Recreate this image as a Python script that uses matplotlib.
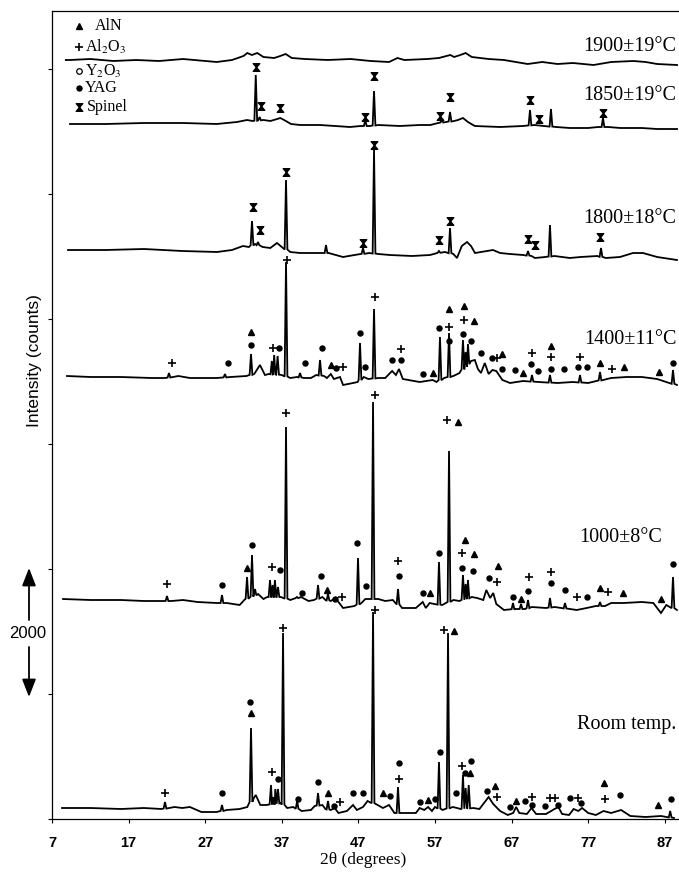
import numpy as np
import matplotlib.pyplot as plt
from matplotlib.path import Path
from matplotlib.transforms import blended_transform_factory

plt.rcParams['font.family'] = ['Liberation Serif', 'DejaVu Serif']
plt.rcParams['mathtext.fontset'] = 'stix'

# stacked XRD patterns: 2theta (deg) and counts relative to each pattern's offset
labels = ['1900±19°C', '1850±19°C', '1800±18°C', '1400±11°C', '1000±8°C', 'Room temp.']
offsets = [12144, 11120, 9104, 7072, 3504, 176]

base_1900 = [(8.8, 0), (9.35, 0), (12, 16), (15, -16), (18, 0), (21, -16), (24.1, 16), (28.5, -32),
             (30.5, 0), (32.0, 64), (32.5, 112), (33.1, 80), (33.8, 112), (34.6, 48), (36.0, 32),
             (36.8, 64), (37.5, 96), (38.3, 32), (40, 16), (43, 0), (46, 16), (48.6, -16), (51.0, -32),
             (52.1, 32), (53.0, 0), (56.0, 16), (57.5, 32), (59.0, 80), (59.5, 48), (60.3, 80),
             (61.0, 112), (61.8, 48), (64, 16), (66, 0), (69.1, -64), (71, -32), (73, -64), (75, -48),
             (77.7, -80), (80, -32), (82.9, -16), (84.5, -32), (86, -64), (88.6, -80)]
peaks_1900 = []

base_1850 = [(9.35, 0), (14, 0), (19, 16), (24.1, 16), (28.5, 0), (31.15, 32), (32.46, 64), (33.2, 48),
             (34.6, 64), (35.5, 48), (36.4, 80), (36.8, 96), (37.3, 64), (38.2, 0), (39.4, -16),
             (42, -16), (45.9, -48), (47.3, -32), (48.5, -32), (49.6, -16), (52.4, -32), (55, -16),
             (56.4, -16), (57.4, 16), (59.5, 48), (60.0, 64), (60.65, 96), (61.3, 32), (62.2, -32),
             (65.5, -48), (68.5, -32), (70.0, -16), (71.2, -32), (72.8, -48), (74.6, -64), (77, -64),
             (78.3, -48), (79.6, -48), (81.2, -64), (84, -64), (86, -80), (88.6, -80)]
peaks_1850 = [(33.6, 784), (34.1, 112), (47.9, 64), (49.04, 528), (57.9, 64), (58.96, 192),
              (69.4, 224), (72.14, 240), (78.93, 96)]

base_1800 = [(9.09, 0), (14, 0), (19, 16), (24, -16), (28.54, -32), (30.5, 0), (31.93, 64), (32.7, 48),
             (33.5, 96), (34.5, 48), (35.5, 32), (36.37, 112), (37.0, 48), (38.1, -32), (39.38, -48),
             (41.5, -48), (43.1, -48), (44.99, -112), (46.5, -80), (48.4, -48), (49.6, -64),
             (51.13, -80), (54, -96), (56.35, -80), (57.3, -48), (58.3, -32), (59.4, -64),
             (59.87, -128), (60.5, 64), (61.18, 128), (61.7, 64), (62.22, -48), (64.57, 0), (65.5, -48),
             (66.79, -64), (68.5, -80), (69.6, -96), (70.05, -128), (71.4, -112), (72.6, -96),
             (74.6, -128), (76, -112), (78.2, -96), (79.3, -128), (81.15, -112), (82.85, -48),
             (84.15, -48), (86, -112), (88.59, -160)]
peaks_1800 = [(33.11, 464), (33.89, 128), (37.55, 1120), (42.77, 80), (47.6, 32), (49.04, 1600),
              (57.52, -16), (58.96, 352), (69.14, -16), (72.01, 400), (78.67, 32)]

base_1400 = [(8.96, 16), (12, 0), (16, 0), (20, -16), (21.8, -16), (22.8, 0), (23.5, 16), (25, -16),
             (28.54, -16), (30.3, 0), (32.4, 16), (33.4, 48), (34.15, 192), (34.8, 32), (35.3, 48),
             (37.0, 32), (38.1, -16), (39.0, 0), (39.9, -16), (40.8, -16), (41.5, 32), (42.5, 16),
             (42.9, -16), (43.4, 48), (43.8, -32), (44.6, 0), (45.0, -128), (46.3, -96), (46.9, -80),
             (47.7, 0), (48.3, -32), (49.6, -16), (50.5, -16), (51.4, 96), (51.9, 32), (52.3, 128),
             (52.8, -32), (55.0, -80), (56.7, -48), (57.2, -80), (58.2, -16), (59.4, 16), (60.2, 64),
             (61.7, 256), (62.2, 272), (62.6, 128), (63.0, 64), (63.5, 224), (64.0, 48), (64.5, 112),
             (65.0, 96), (65.8, -48), (66.8, -96), (68.5, -64), (70.5, -80), (73.0, -96), (75.0, -80),
             (77.0, -96), (80, -16), (82, 0), (84, 0), (86, -32), (88.59, -128)]
peaks_1400 = [(22.27, 64), (29.58, 48), (32.98, 368), (35.7, 256), (36.0, 352), (36.45, 336),
              (37.55, 1840), (39.38, 64), (41.99, 272), (47.21, 544), (49.04, 1088), (57.65, 640),
              (58.83, 704), (60.65, 592), (61.0, 400), (61.3, 528), (69.66, 32), (72.01, 32),
              (75.93, 32), (78.54, 80), (88.07, 112)]

base_1000 = [(8.44, 16), (12, 0), (16, 0), (19, -16), (21.5, -16), (22.6, -16), (24.1, 0), (26, -32),
             (28.5, -48), (29.8, -48), (31.5, -80), (32.1, 0), (33.9, 96), (34.6, 16), (35.1, 48),
             (36.9, 48), (38.1, 0), (39.5, 48), (40.5, -16), (41.2, 0), (42.3, 48), (42.7, 0),
             (43.4, -16), (44.0, 32), (44.6, -64), (45.0, -128), (46.5, -96), (47.4, -48), (47.9, 16),
             (49.6, 16), (50.5, -16), (51.5, 0), (52.7, -128), (54.5, -128), (55.4, -32), (55.8, -128),
             (56.3, -48), (56.9, -64), (57.95, -80), (59.4, 0), (60.2, -16), (61.8, 48), (62.5, 32),
             (63.3, 0), (63.7, 160), (64.2, 32), (64.6, 112), (65.0, -64), (66, -160), (67.5, -144),
             (68.8, -144), (69.6, -112), (71.5, -128), (72.6, -112), (73.5, -128), (75.5, -160),
             (76.8, -128), (78.0, -96), (79.2, -96), (80, -48), (81.6, -48), (84, -32), (85.5, -48),
             (86.5, -208), (87.2, -80), (88.59, -160)]
peaks_1000 = [(22.01, 64), (29.19, 80), (32.46, 368), (33.11, 720), (33.5, 176), (35.46, 320),
              (35.8, 240), (36.1, 320), (36.5, 208), (37.55, 2768), (38.98, 48), (41.73, 240),
              (43.03, 96), (46.95, 672), (48.91, 3168), (52.17, 176), (57.52, 608), (58.83, 2384),
              (60.65, 400), (61.0, 256), (61.3, 320), (67.18, -48), (68.23, -64), (69.14, 0),
              (72.01, 32), (73.97, -48), (78.54, -32), (88.07, 368)]

base_rt = [(8.31, 0), (12, 0), (16, -16), (19, 0), (21.3, -16), (22.3, 0), (23, 16), (24, 0), (25, 16),
           (26.5, -64), (28.5, -64), (29.8, -32), (31.5, -16), (32.5, 16), (33.35, 160), (33.6, 208),
           (34.2, 48), (35.0, 48), (36.9, 80), (37.7, 0), (38.5, 16), (39.6, -48), (40.8, -32),
           (41.3, 32), (42.3, 48), (42.7, -16), (43.4, -32), (43.9, 0), (44.4, -80), (45.5, -48),
           (46.3, 48), (46.8, -32), (47.6, 16), (48.2, 112), (49.5, 48), (50.2, 0), (51.0, 48),
           (51.7, -80), (52.7, -80), (54.5, -80), (55.0, 0), (55.6, -32), (56.1, 16), (56.6, -48),
           (57.0, 16), (58.0, -32), (59.3, 16), (59.9, 0), (60.3, -16), (62.0, 0), (62.8, -16),
           (63.5, 96), (64.0, 176), (64.6, 64), (65.5, -48), (66.5, -112), (67.2, -80), (67.6, 16),
           (68.0, -80), (69.0, -96), (69.6, 0), (70.2, -96), (71.5, -96), (72.6, -16), (73.1, 16),
           (73.6, -96), (74.5, -112), (75.1, -16), (75.7, -48), (76.2, 0), (77.0, -80), (78.0, -112),
           (79.0, -48), (80.0, -80), (81.3, -32), (82.5, -128), (84.5, -144), (86.5, -128), (88.2, -160)]
peaks_rt = [(21.75, 96), (29.19, 48), (32.98, 1280), (35.59, 368), (35.9, 176), (36.15, 304),
            (36.5, 304), (37.16, 2800), (39.0, 112), (41.73, 240), (43.03, 112), (48.91, 3136),
            (52.17, 336), (57.52, 736), (58.7, 2800), (60.65, 528), (61.0, 320), (61.4, 368),
            (87.7, -48)]

# phase markers (2theta, counts relative to pattern offset)
spinel_1850 = [(33.6, 912), (34.25, 288), (36.77, 256), (47.86, 112), (49.04, 768), (57.65, 128),
               (58.96, 432), (69.4, 384), (70.58, 80), (78.93, 176)]
spinel_1800 = [(33.24, 688), (34.15, 320), (37.5, 1248), (47.6, 112), (49.04, 1680), (57.52, 160),
               (58.96, 464), (69.14, 176), (70.1, 80), (78.6, 208)]

aln_1400 = [(32.98, 720), (43.4, 192), (56.8, 64), (58.8, 1088), (60.8, 1136), (62.1, 896),
            (65.8, 368), (68.5, 64), (72.1, 496), (78.54, 224), (81.7, 160), (86.3, 80)]
al2o3_1400 = [(22.67, 224), (35.8, 464), (37.7, 1872), (45.0, 160), (49.17, 1280), (52.5, 448),
              (58.8, 800), (60.8, 912), (65.05, 304), (69.7, 384), (72.1, 320), (75.9, 320), (80.1, 128)]
yag_1400 = [(29.98, 224), (32.98, 512), (36.6, 464), (40.03, 224), (42.2, 464), (44.07, 144),
            (47.21, 704), (47.86, 160), (51.35, 272), (52.5, 272), (55.4, 48), (57.5, 784), (58.8, 576),
            (60.6, 688), (61.66, 576), (62.97, 384), (64.4, 304), (65.8, 128), (67.5, 112), (69.5, 208),
            (70.5, 96), (72.1, 128), (73.9, 128), (75.7, 160), (76.9, 160), (88.1, 224)]

aln_1000 = [(32.4, 512), (42.95, 160), (56.35, 112), (59.96, 2848), (60.9, 960), (62.1, 736),
            (65.26, 544), (68.23, 16), (78.54, 192), (81.58, 112), (86.46, 16)]
al2o3_1000 = [(22.05, 256), (35.76, 528), (37.5, 2992), (44.9, 48), (49.17, 3280), (52.13, 624),
              (58.6, 2880), (60.56, 752), (65.05, 288), (69.27, 368), (72.1, 448), (75.58, 48), (79.63, 128)]
yag_1000 = [(29.23, 240), (33.15, 880), (36.77, 480), (39.6, 112), (42.1, 384), (43.94, 16), (46.78, 912),
            (47.95, 224), (52.34, 384), (55.47, 112), (57.52, 752), (60.56, 512), (62.0, 464), (64.09, 352),
            (67.14, 48), (69.18, 144), (72.1, 272), (73.97, 160), (76.88, 48), (88.1, 576)]

aln_rt = [(32.94, 1520), (42.99, 240), (50.17, 240), (56.13, 128), (59.5, 2832), (61.6, 560),
          (64.83, 352), (67.53, 112), (79.1, 400), (86.07, 48)]
al2o3_rt = [(21.75, 240), (35.7, 576), (37.2, 2880), (44.6, 96), (49.17, 3168), (52.34, 464),
            (58.2, 2848), (60.48, 672), (65.05, 176), (69.7, 176), (72.01, 160), (72.66, 160),
            (75.7, 160), (79.2, 144)]
yag_rt = [(29.19, 240), (32.85, 1696), (36.46, 464), (39.07, 144), (41.68, 416), (43.86, 32), (46.33, 240),
          (47.64, 240), (51.13, 192), (52.34, 720), (55.04, 96), (57.0, 144), (57.65, 896), (59.74, 240),
          (60.9, 560), (61.7, 752), (63.74, 272), (66.79, 16), (68.75, 112), (69.7, 48), (71.36, 32),
          (73.1, 48), (74.62, 160), (76.0, 80), (81.15, 208), (87.77, 144)]

patterns = [(base_1900, peaks_1900), (base_1850, peaks_1850), (base_1800, peaks_1800),
            (base_1400, peaks_1400), (base_1000, peaks_1000), (base_rt, peaks_rt)]


def profile(base, peaks, w=0.18):
    bx, by = np.array(base, dtype=float).T
    pts = [(x, y) for x, y in base if all(abs(x - p) > w for p, _ in peaks)]
    for p, top in peaks:
        foot = np.interp(p, bx, by)
        pts += [(p - w, foot), (p, top), (p + w, foot)]
    pts.sort()
    return np.array(pts).T


hourglass = Path([(-0.85, 1), (0.85, 1), (-0.85, -1), (0.85, -1), (-0.85, 1)],
                 [Path.MOVETO, Path.LINETO, Path.LINETO, Path.LINETO, Path.CLOSEPOLY])
styles = {
    'aln': dict(marker='^', ms=4, color='k'),
    'al2o3': dict(marker='+', ms=5.5, mew=1.2, color='k'),
    'yag': dict(marker='o', ms=3.6, color='k'),
    'y2o3': dict(marker='o', ms=4, mfc='none', mew=0.9, color='k'),
    'spinel': dict(marker=hourglass, ms=5.5, color='k'),
}

fig = plt.figure(figsize=(6.79, 8.81), dpi=100)
ax = fig.add_axes([52 / 679, 62 / 881, 627 / 679, 808 / 881])

for (base, peaks), off in zip(patterns, offsets):
    x, y = profile(base, peaks)
    ax.plot(x, y + off, color='k', lw=1.3, solid_joinstyle='miter')

marks = [(spinel_1850, 1, 'spinel'), (spinel_1800, 2, 'spinel'),
         (aln_1400, 3, 'aln'), (al2o3_1400, 3, 'al2o3'), (yag_1400, 3, 'yag'),
         (aln_1000, 4, 'aln'), (al2o3_1000, 4, 'al2o3'), (yag_1000, 4, 'yag'),
         (aln_rt, 5, 'aln'), (al2o3_rt, 5, 'al2o3'), (yag_rt, 5, 'yag')]
for pts, i, kind in marks:
    mx, my = np.array(pts).T
    ax.plot(mx, my + offsets[i], ls='none', **styles[kind])

# temperature labels
label_pos = [(88.5, 12368), (88.5, 11584), (88.5, 9616), (88.5, 7664), (86.6, 4496), (88.5, 1504)]
for (lx, ly), txt in zip(label_pos, labels):
    ax.text(lx, ly, txt, ha='right', va='center', fontsize=14.5)

# phase key
key = [('aln', 'AlN', 12688, 12.6), ('al2o3', 'Al$_2$O$_3$', 12352, 11.3),
       ('y2o3', 'Y$_2$O$_3$', 11968, 11.3), ('yag', 'YAG', 11696, 11.3), ('spinel', 'Spinel', 11392, 11.6)]
for kind, name, ky, tx in key:
    ax.plot([10.5], [ky], ls='none', **styles[kind])
    ax.text(tx, ky, name, ha='left', va='center', fontsize=11.5)

ax.set_xlim(7, 7 + 627 / 7.66)
ax.set_ylim(0, 12928)
ax.spines['right'].set_visible(False)
for s in ['left', 'top', 'bottom']:
    ax.spines[s].set_linewidth(0.9)
ax.set_xticks(range(7, 88, 10))
ax.set_yticks(range(0, 12001, 2000))
ax.set_yticklabels([])
ax.tick_params(direction='out', length=3, width=0.8, pad=9)
for lab in ax.get_xticklabels():
    lab.set_fontfamily('Liberation Sans')
    lab.set_fontweight('bold')
    lab.set_fontsize(10.5)

fig.text(363 / 679, 1 - 860 / 881, '2θ (degrees)', ha='center', va='center', fontsize=12.5)
fig.text(35 / 679, 1 - 361 / 881, 'Intensity (counts)', rotation=90, ha='center', va='center',
         fontsize=12.5, family='Liberation Sans')

# 2000 counts scale bar
tr = blended_transform_factory(fig.transFigure, ax.transData)
bx = 29 / 679
arrow = dict(arrowstyle='-|>,head_length=0.9,head_width=0.35', color='k', lw=1.3,
             mutation_scale=12, shrinkA=0, shrinkB=0)
ax.annotate('', xy=(bx, 4016), xytext=(bx, 3184), xycoords=tr, textcoords=tr,
            arrowprops=arrow, annotation_clip=False)
ax.annotate('', xy=(bx, 1952), xytext=(bx, 2752), xycoords=tr, textcoords=tr,
            arrowprops=arrow, annotation_clip=False)
ax.text(28 / 679, 2960, '2000', transform=tr, ha='center', va='center', fontsize=12,
        family='Liberation Sans')

fig.savefig('out.png', dpi=100)
